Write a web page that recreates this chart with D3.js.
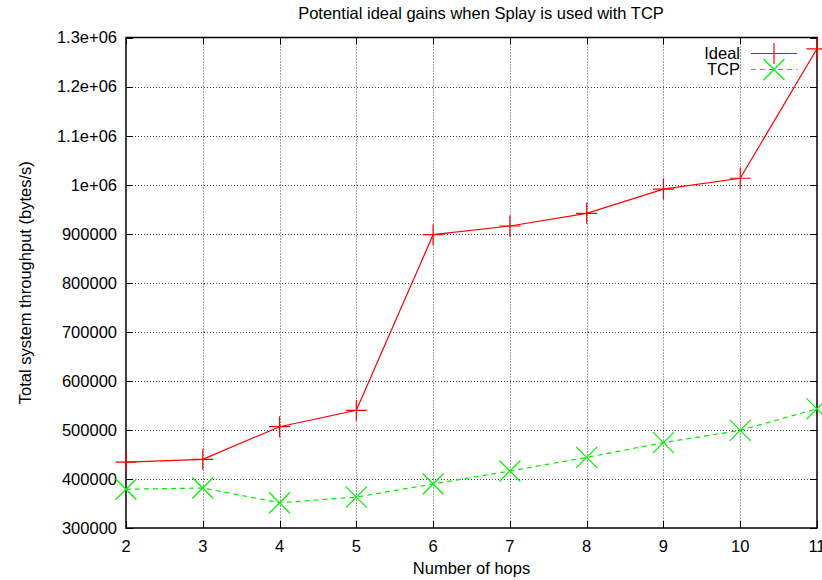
<!DOCTYPE html>
<html>
<head>
<meta charset="utf-8">
<script src="https://cdn.jsdelivr.net/npm/d3@7"></script>
<style>
  body { margin: 0; background: #fff; }
  text { font-family: "Liberation Sans", Arial, Helvetica, sans-serif; fill: #000; }
</style>
</head>
<body>
<div id="chart"></div>
<script>
// data
const hops = [2, 3, 4, 5, 6, 7, 8, 9, 10, 11];
const idealValues = [434500, 440000, 506500, 540000, 898000, 915700, 941600, 991000, 1013000, 1277000];
const tcpValues = [379000, 381500, 351500, 363000, 389700, 416200, 444000, 474000, 499000, 543000];
const yTicks = [300000, 400000, 500000, 600000, 700000, 800000, 900000, 1000000, 1100000, 1200000, 1300000];
const yTickLabels = ["300000", "400000", "500000", "600000", "700000", "800000", "900000", "1e+06", "1.1e+06", "1.2e+06", "1.3e+06"];

const width = 822, height = 580;
const margin = { top: 37.5, right: 5, bottom: 52, left: 126 };
const fontSize = 16.5;

const svg = d3.select('#chart').append('svg')
  .attr('width', width)
  .attr('height', height);

const x = d3.scaleLinear().domain([2, 11]).range([margin.left, width - margin.right]);
const y = d3.scaleLinear().domain([300000, 1300000]).range([height - margin.bottom, margin.top]);

const x0 = x.range()[0], x1 = x.range()[1];
const y0 = y.range()[0], y1 = y.range()[1];

// grid (dotted)
const grid = svg.append('g')
  .attr('stroke', '#444')
  .attr('stroke-width', 1)
  .attr('stroke-dasharray', '1,2');
grid.selectAll('line.gx')
  .data(hops.slice(1, -1))
  .join('line')
  .attr('x1', d => Math.round(x(d)) + 0.5).attr('x2', d => Math.round(x(d)) + 0.5)
  .attr('y1', y1).attr('y2', y0);
grid.selectAll('line.gy')
  .data(yTicks.slice(1, -1))
  .join('line')
  .attr('x1', x0).attr('x2', x1)
  .attr('y1', d => Math.round(y(d)) + 0.5).attr('y2', d => Math.round(y(d)) + 0.5);

// tick marks on all four sides, pointing inward
const ticks = svg.append('g').attr('stroke', '#000').attr('stroke-width', 1);
const tl = 7;
yTicks.forEach(v => {
  const yy = Math.round(y(v)) + 0.5;
  ticks.append('line').attr('x1', x0).attr('x2', x0 + tl).attr('y1', yy).attr('y2', yy);
  ticks.append('line').attr('x1', x1).attr('x2', x1 - tl).attr('y1', yy).attr('y2', yy);
});
hops.forEach(v => {
  const xx = Math.round(x(v)) + 0.5;
  ticks.append('line').attr('x1', xx).attr('x2', xx).attr('y1', y0).attr('y2', y0 - tl);
  ticks.append('line').attr('x1', xx).attr('x2', xx).attr('y1', y1).attr('y2', y1 + tl);
});

// frame
svg.append('rect')
  .attr('x', x0).attr('y', y1)
  .attr('width', x1 - x0).attr('height', y0 - y1)
  .attr('fill', 'none')
  .attr('stroke', '#000')
  .attr('stroke-width', 1.5);

// tick labels
svg.append('g').selectAll('text')
  .data(yTicks)
  .join('text')
  .attr('x', x0 - 9)
  .attr('y', d => y(d))
  .attr('dy', '0.36em')
  .attr('text-anchor', 'end')
  .attr('font-size', fontSize)
  .text((d, i) => yTickLabels[i]);

// the last label sits on the right edge and is partly cut, as in the reference
svg.append('g').selectAll('text')
  .data(hops)
  .join('text')
  .attr('x', d => x(d))
  .attr('y', y0 + 24)
  .attr('text-anchor', 'middle')
  .attr('font-size', fontSize)
  .text(d => d);

// titles
svg.append('text')
  .attr('x', 481).attr('y', 19)
  .attr('text-anchor', 'middle')
  .attr('font-size', fontSize)
  .text('Potential ideal gains when Splay is used with TCP');

svg.append('text')
  .attr('x', (x0 + x1) / 2).attr('y', 574)
  .attr('text-anchor', 'middle')
  .attr('font-size', fontSize)
  .text('Number of hops');

svg.append('text')
  .attr('transform', `translate(31,${(y0 + y1) / 2}) rotate(-90)`)
  .attr('text-anchor', 'middle')
  .attr('font-size', fontSize)
  .text('Total system throughput (bytes/s)');

// series
const series = [
  { name: 'Ideal', values: idealValues, color: '#ff0000', dash: null, marker: 'plus' },
  { name: 'TCP', values: tcpValues, color: '#00f000', dash: '5,4', marker: 'cross' }
];

const line = d3.line().x((d, i) => x(hops[i])).y(d => y(d));
const ms = 10.5;

function drawMarker(g, cx, cy, type, color) {
  const p = type === 'plus'
    ? `M${cx - ms},${cy}H${cx + ms}M${cx},${cy - ms}V${cy + ms}`
    : `M${cx - ms},${cy - ms}L${cx + ms},${cy + ms}M${cx - ms},${cy + ms}L${cx + ms},${cy - ms}`;
  g.append('path').attr('d', p).attr('stroke', color).attr('stroke-width', 1.2).attr('fill', 'none');
}

series.forEach((s, k) => {
  const g = svg.append('g');
  g.append('path')
    .attr('d', line(s.values))
    .attr('fill', 'none')
    .attr('stroke', s.color)
    .attr('stroke-width', 1.2)
    .attr('stroke-dasharray', s.dash);
  s.values.forEach((v, i) => drawMarker(g, x(hops[i]), y(v), s.marker, s.color));

  // legend entry
  const ly = 53.5 + k * 16;
  svg.append('text')
    .attr('x', 740).attr('y', ly)
    .attr('dy', '0.36em')
    .attr('text-anchor', 'end')
    .attr('font-size', fontSize)
    .text(s.name);
  g.append('line')
    .attr('x1', 751).attr('x2', 797)
    .attr('y1', ly).attr('y2', ly)
    .attr('stroke', s.color)
    .attr('stroke-width', 1.2)
    .attr('stroke-dasharray', s.dash);
  drawMarker(g, 774, ly, s.marker, s.color);
});
</script>
</body>
</html>
